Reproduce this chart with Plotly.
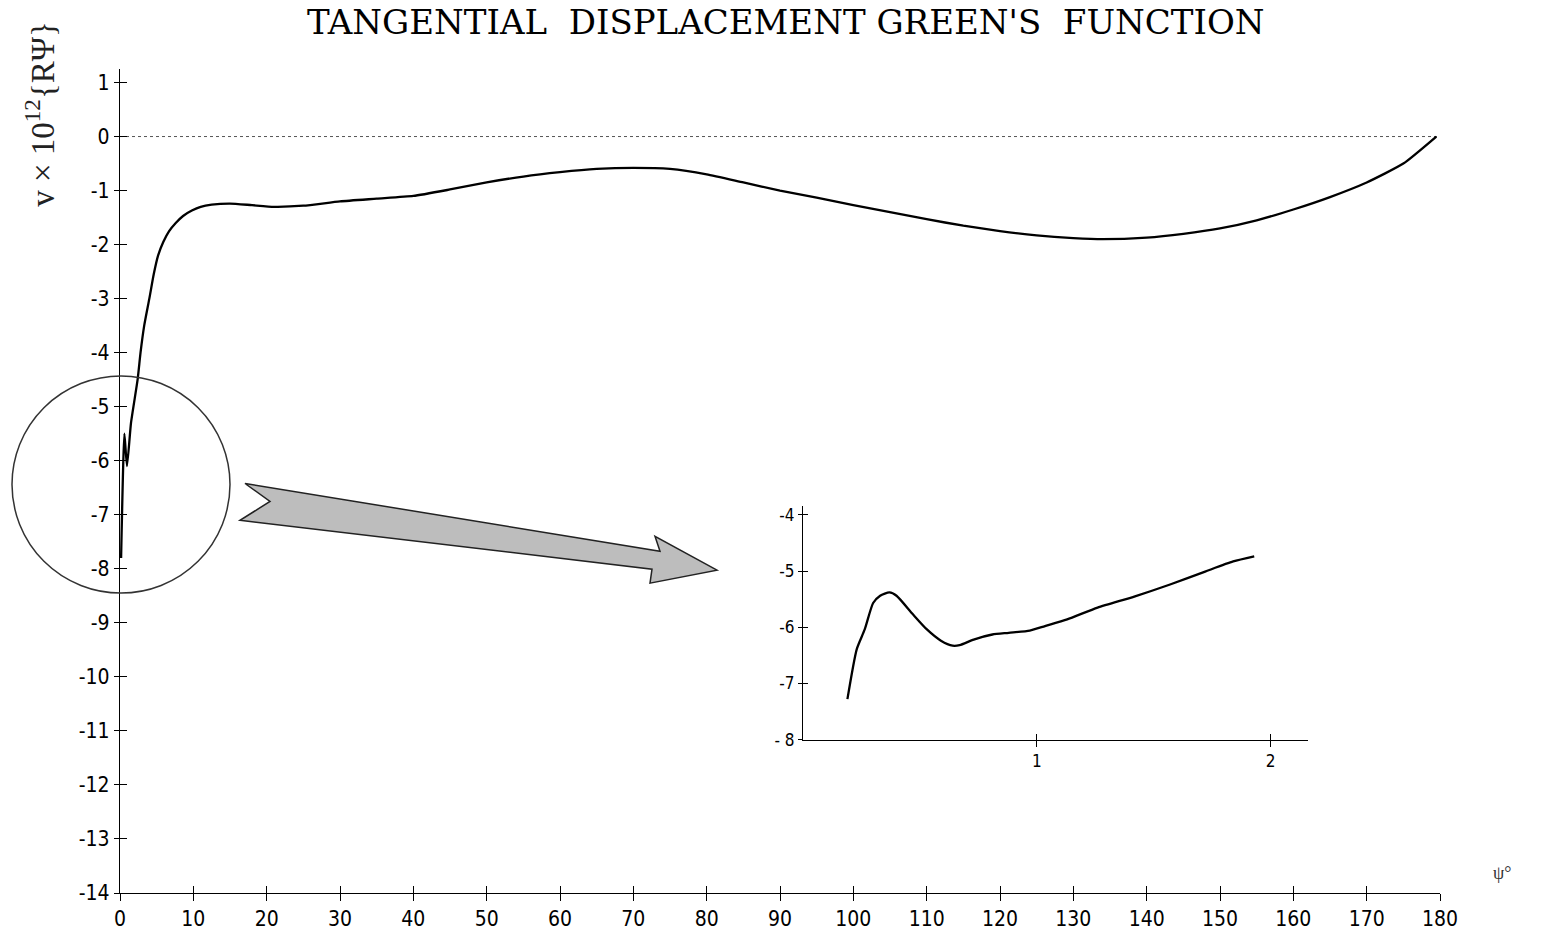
import plotly.graph_objects as go

# ---------------- data ----------------
psi_main = [0.15, 0.6, 0.95, 1.5, 2.4, 2.8, 3.3, 4.0, 4.6, 5.2, 5.9, 6.7, 7.6, 8.6, 9.8,
            11, 12.5, 15, 18, 21, 25, 30, 35, 40, 45, 50, 55, 60, 65, 70, 75, 80,
            85, 90, 95, 100, 105, 110, 115, 120, 125, 130, 134, 140, 145, 150, 155,
            160, 165, 170, 175, 179.5]
v_main = [-7.8, -5.5, -6.1, -5.3, -4.5, -4.0, -3.5, -3.0, -2.55, -2.2, -1.95, -1.75, -1.6, -1.47, -1.37,
          -1.3, -1.26, -1.24, -1.27, -1.3, -1.28, -1.2, -1.15, -1.1, -0.98, -0.85, -0.74, -0.66, -0.6, -0.58, -0.6, -0.7,
          -0.85, -1.0, -1.13, -1.27, -1.4, -1.53, -1.65, -1.75, -1.83, -1.88, -1.9, -1.87, -1.8, -1.7, -1.55,
          -1.35, -1.12, -0.85, -0.5, 0.0]

psi_inset = [0.19, 0.23, 0.264, 0.30, 0.33, 0.37, 0.40, 0.47, 0.53, 0.59, 0.64, 0.67, 0.73,
             0.81, 0.88, 0.97, 1.035, 1.13, 1.26, 1.42, 1.57, 1.72, 1.84, 1.93]
v_inset = [-7.28, -6.39, -6.04, -5.57, -5.44, -5.38, -5.44, -5.77, -6.04, -6.24, -6.33, -6.32, -6.22,
           -6.13, -6.10, -6.06, -5.98, -5.86, -5.65, -5.45, -5.24, -5.01, -4.83, -4.74]

x_ticks = list(range(0, 181, 10))
x_ticktext = [str(t) for t in x_ticks]
y_ticks = list(range(1, -15, -1))
y_ticktext = [str(t) for t in y_ticks]

inset_x_ticks = [1, 2]
inset_x_ticktext = ["1", "2"]
inset_y_ticks = [-4, -5, -6, -7, -8]
inset_y_ticktext = ["-4", "-5", "-6", "-7", "- 8"]

title_text = "TANGENTIAL\u00a0\u00a0DISPLACEMENT GREEN'S\u00a0\u00a0FUNCTION"
ylabel_text = "v \u00d7 10<sup>12</sup>{R\u03a8}"
xlabel_text = "\u03c8\u00b0"

# ---------------- layout geometry (pixels) ----------------
W, H = 1548, 943
L, R, T, B = 120, 108, 69, 47
PW, PH = W - L - R, H - T - B


def px(xp):
    return (xp - L) / PW


def py(yp):
    return (H - B - yp) / PH


tick_font = dict(family="Liberation Sans Narrow, DejaVu Sans Condensed, Arial Narrow, Liberation Sans, sans-serif",
                 size=21, color="black")
inset_font = dict(family="Liberation Sans Narrow, DejaVu Sans Condensed, Arial Narrow, Liberation Sans, sans-serif",
                  size=17, color="black")

fig = go.Figure()

# zero dotted line
fig.add_trace(go.Scatter(x=[0, 180], y=[0, 0], mode="lines",
                         line=dict(color="#555", width=1, dash="dot"),
                         showlegend=False, hoverinfo="skip"))
# main curve
fig.add_trace(go.Scatter(x=psi_main, y=v_main, mode="lines",
                         line=dict(color="black", width=2.3, shape="spline", smoothing=0.5),
                         showlegend=False))
# helper trace for crossing ticks on main axes
fig.add_trace(go.Scatter(x=[0], y=[0], xaxis="x2", yaxis="y2", mode="markers",
                         marker=dict(opacity=0), showlegend=False, hoverinfo="skip"))
# inset curve
fig.add_trace(go.Scatter(x=psi_inset, y=v_inset, mode="lines", xaxis="x3", yaxis="y3",
                         line=dict(color="black", width=2.3, shape="spline", smoothing=0.6),
                         showlegend=False))
fig.add_trace(go.Scatter(x=[1], y=[-6], xaxis="x4", yaxis="y4", mode="markers",
                         marker=dict(opacity=0), showlegend=False, hoverinfo="skip"))

common_ax = dict(showgrid=False, zeroline=False, tickcolor="black", tickwidth=1.3)

fig.update_layout(
    width=W, height=H,
    margin=dict(l=L, r=R, t=T, b=B),
    paper_bgcolor="white", plot_bgcolor="white",
    xaxis=dict(domain=[0, 1], range=[0, 180], anchor="y", showline=True, linecolor="black",
               linewidth=1.3, ticks="outside", ticklen=7, tickvals=x_ticks, ticktext=x_ticktext,
               tickfont=tick_font, **common_ax),
    xaxis2=dict(overlaying="x", range=[0, 180], anchor="y", showline=False, ticks="inside",
                ticklen=7, tickvals=x_ticks, showticklabels=False, **common_ax),
    yaxis=dict(domain=[0, 1], range=[-14, 1.25], anchor="x", showline=True, linecolor="black",
               linewidth=1.3, ticks="outside", ticklen=5, tickvals=y_ticks, ticktext=y_ticktext,
               tickfont=tick_font, **common_ax),
    yaxis2=dict(overlaying="y", range=[-14, 1.25], anchor="x", showline=False, ticks="inside",
                ticklen=7, tickvals=y_ticks, showticklabels=False, **common_ax),
    xaxis3=dict(domain=[px(803), px(1308)], range=[0, 2.16], anchor="y3", showline=True,
                linecolor="black", linewidth=1.2, ticks="outside", ticklen=6,
                tickvals=inset_x_ticks, ticktext=inset_x_ticktext, tickfont=inset_font, **common_ax),
    xaxis4=dict(overlaying="x3", range=[0, 2.16], anchor="y3", showline=False, ticks="inside",
                ticklen=6, tickvals=inset_x_ticks, showticklabels=False, **common_ax),
    yaxis3=dict(domain=[py(742), py(508)], range=[-8, -3.85], anchor="x3", showline=True,
                linecolor="black", linewidth=1.2, ticks="outside", ticklen=4,
                tickvals=inset_y_ticks, ticktext=inset_y_ticktext, tickfont=inset_font, **common_ax),
    yaxis4=dict(overlaying="y3", range=[-8, -3.85], anchor="x3", showline=False, ticks="inside",
                ticklen=5, tickvals=inset_y_ticks, showticklabels=False, **common_ax),
)

# title
fig.add_annotation(text=title_text, xref="paper", yref="paper", x=px(786), y=py(22),
                   xanchor="center", yanchor="middle", showarrow=False,
                   font=dict(family="DejaVu Serif, Liberation Serif, serif", size=34, color="black"))
# y label
fig.add_annotation(text=ylabel_text, xref="paper", yref="paper", x=px(40), y=py(114),
                   xanchor="center", yanchor="middle", showarrow=False, textangle=-90,
                   font=dict(family="Liberation Serif, DejaVu Serif, serif", size=33, color="#222"))
# x label
fig.add_annotation(text=xlabel_text, xref="paper", yref="paper", x=px(1502), y=py(876),
                   xanchor="center", yanchor="middle", showarrow=False,
                   font=dict(family="Liberation Serif, DejaVu Serif, serif", size=18, color="#333"))

# magnifier circle (paper coordinates so it is not clipped by the plot area)
cx, cy, rad = 121, 486, 109
fig.add_shape(type="circle", xref="paper", yref="paper",
              x0=px(cx - rad), x1=px(cx + rad), y0=py(cy + rad), y1=py(cy - rad),
              line=dict(color="#333", width=1.5))

# fat arrow
arrow_px = [(245, 485), (660, 553), (655, 538), (717, 572), (650, 585), (652, 571),
            (240, 522), (270, 503)]
path = "M " + " L ".join(f"{px(a):.5f},{py(b):.5f}" for a, b in arrow_px) + " Z"
fig.add_shape(type="path", xref="paper", yref="paper", path=path,
              fillcolor="#bdbdbd", line=dict(color="#222", width=1.5))

fig.write_html("out.html")
